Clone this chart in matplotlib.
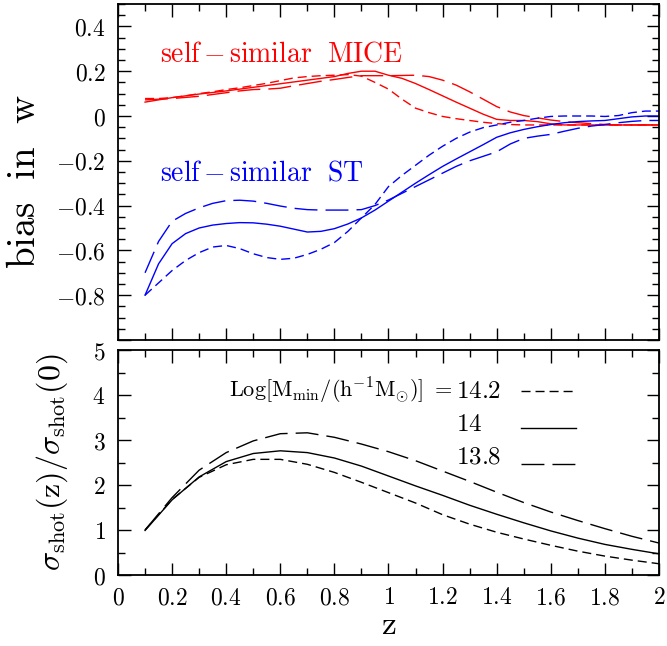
import numpy as np
import matplotlib
matplotlib.use("Agg")
import matplotlib.pyplot as plt
from matplotlib.ticker import MultipleLocator, FuncFormatter

plt.rcParams['mathtext.fontset'] = 'cm'
plt.rcParams['font.family'] = 'serif'

# ---- top panel: bias in w ----
z_top = [0.10, 0.15, 0.20, 0.25, 0.30, 0.35, 0.40, 0.45, 0.50, 0.55,
         0.60, 0.65, 0.70, 0.75, 0.80, 0.85, 0.90, 0.95, 1.00, 1.05,
         1.10, 1.15, 1.20, 1.25, 1.30, 1.35, 1.40, 1.45, 1.50, 1.55,
         1.60, 1.65, 1.70, 1.75, 1.80, 1.85, 1.90, 1.95, 2.00]

mice_142 = [0.078, 0.078, 0.082, 0.090, 0.100, 0.108, 0.118, 0.126, 0.136, 0.146,
            0.158, 0.170, 0.176, 0.180, 0.182, 0.185, 0.178, 0.150, 0.120, 0.075,
            0.035, 0.015, -0.002, -0.012, -0.020, -0.028, -0.034, -0.038, -0.040, -0.040,
            -0.040, -0.040, -0.040, -0.040, -0.040, -0.040, -0.040, -0.040, -0.040]
mice_14 = [0.062, 0.072, 0.082, 0.090, 0.098, 0.105, 0.112, 0.120, 0.128, 0.136,
           0.144, 0.152, 0.160, 0.168, 0.176, 0.190, 0.200, 0.200, 0.182, 0.168,
           0.145, 0.118, 0.090, 0.062, 0.035, 0.008, -0.015, -0.020, -0.020, -0.025,
           -0.035, -0.040, -0.040, -0.040, -0.040, -0.040, -0.040, -0.040, -0.040]
mice_138 = [0.072, 0.075, 0.078, 0.083, 0.088, 0.096, 0.104, 0.112, 0.118, 0.120,
            0.124, 0.135, 0.145, 0.155, 0.163, 0.172, 0.180, 0.180, 0.180, 0.181,
            0.182, 0.176, 0.160, 0.138, 0.108, 0.075, 0.042, 0.018, 0.002, -0.008,
            -0.018, -0.025, -0.030, -0.034, -0.038, -0.040, -0.040, -0.040, -0.040]

st_142 = [-0.800, -0.745, -0.690, -0.645, -0.610, -0.585, -0.578, -0.592, -0.615, -0.632,
          -0.640, -0.635, -0.618, -0.595, -0.565, -0.515, -0.455, -0.395, -0.315, -0.265,
          -0.220, -0.175, -0.135, -0.100, -0.072, -0.052, -0.040, -0.028, -0.020, -0.010,
          -0.002, 0.000, 0.000, 0.000, -0.002, 0.002, 0.015, 0.022, 0.022]
st_14 = [-0.800, -0.660, -0.570, -0.525, -0.500, -0.487, -0.480, -0.476, -0.477, -0.483,
         -0.492, -0.505, -0.518, -0.515, -0.503, -0.482, -0.455, -0.420, -0.380, -0.340,
         -0.300, -0.262, -0.225, -0.192, -0.160, -0.128, -0.095, -0.075, -0.060, -0.048,
         -0.038, -0.030, -0.025, -0.022, -0.020, -0.012, -0.004, 0.000, 0.000]
st_138 = [-0.700, -0.560, -0.470, -0.435, -0.410, -0.390, -0.378, -0.376, -0.380, -0.390,
          -0.402, -0.412, -0.418, -0.420, -0.420, -0.420, -0.418, -0.400, -0.375, -0.345,
          -0.315, -0.285, -0.255, -0.225, -0.200, -0.180, -0.160, -0.125, -0.100, -0.090,
          -0.082, -0.068, -0.055, -0.045, -0.038, -0.030, -0.024, -0.020, -0.020]

# ---- bottom panel: shot noise ratio ----
z_bot = [0.1, 0.2, 0.3, 0.4, 0.5, 0.6, 0.7, 0.8, 0.9, 1.0,
         1.1, 1.2, 1.3, 1.4, 1.5, 1.6, 1.7, 1.8, 1.9, 2.0]
shot_142 = [1.00, 1.68, 2.17, 2.45, 2.57, 2.57, 2.46, 2.28, 2.06, 1.83,
            1.60, 1.34, 1.13, 0.95, 0.80, 0.66, 0.53, 0.42, 0.33, 0.25]
shot_14 = [0.99, 1.67, 2.18, 2.52, 2.70, 2.76, 2.72, 2.60, 2.42, 2.20,
           1.98, 1.77, 1.55, 1.35, 1.16, 0.98, 0.82, 0.68, 0.57, 0.47]
shot_138 = [1.00, 1.72, 2.33, 2.72, 2.98, 3.14, 3.16, 3.06, 2.91, 2.74,
            2.54, 2.31, 2.08, 1.84, 1.61, 1.40, 1.21, 1.03, 0.86, 0.71]

mass_labels = ['14.2', '14', '13.8']

SHORT = (6.5, 3.6)
LONG = (16.5, 5.8)


def fmt(v, pos):
    if abs(v) < 1e-9:
        return '$0$'
    return '$%g$' % v


def fmt_top(v, pos):
    # the bottom edge (-1) is left unlabelled
    if v < -0.95:
        return ''
    return fmt(v, pos)


def style(ax):
    ax.tick_params(which='both', direction='in', top=True, right=True,
                   labelsize=17, width=1.0)
    ax.tick_params(which='major', length=9)
    ax.tick_params(which='minor', length=5)
    for s in ax.spines.values():
        s.set_linewidth(1.3)
    ax.xaxis.set_major_formatter(FuncFormatter(fmt))
    ax.yaxis.set_major_formatter(FuncFormatter(fmt))


fig = plt.figure(figsize=(6.67, 6.46), dpi=100)
ax1 = fig.add_axes([0.1769, 0.4737, 0.8111, 0.5201])
ax2 = fig.add_axes([0.1769, 0.1099, 0.8111, 0.3483])

lw = 1.0
ax1.plot(z_top, mice_142, color='#ff0000', lw=lw, dashes=SHORT)
ax1.plot(z_top, mice_14, color='#ff0000', lw=lw)
ax1.plot(z_top, mice_138, color='#ff0000', lw=lw, dashes=LONG)
ax1.plot(z_top, st_142, color='#0000ff', lw=lw, dashes=SHORT)
ax1.plot(z_top, st_14, color='#0000ff', lw=lw)
ax1.plot(z_top, st_138, color='#0000ff', lw=lw, dashes=LONG)

ax1.text(0.155, 0.245, r'$\mathrm{self\,{-}\,similar\ \ MICE}$', color='#ff0000',
         fontsize=20, ha='left', va='baseline')
ax1.text(0.155, -0.29, r'$\mathrm{self\,{-}\,similar\ \ ST}$', color='#0000ff',
         fontsize=20, ha='left', va='baseline')

ax1.set_xlim(0, 2)
ax1.set_ylim(-1.0, 0.5)
style(ax1)
ax1.xaxis.set_major_locator(MultipleLocator(0.2))
ax1.xaxis.set_minor_locator(MultipleLocator(0.1))
ax1.yaxis.set_major_locator(MultipleLocator(0.2))
ax1.yaxis.set_minor_locator(MultipleLocator(0.05))
ax1.yaxis.set_major_formatter(FuncFormatter(fmt_top))
ax1.tick_params(labelbottom=False, pad=9)
ax1.set_ylabel(r'$\mathrm{bias\ \ in\ \ w}$', fontsize=28)
ax1.yaxis.set_label_coords(-0.138, 0.47)

l1, = ax2.plot(z_bot, shot_142, color='black', lw=lw, dashes=SHORT)
l2, = ax2.plot(z_bot, shot_14, color='black', lw=lw)
l3, = ax2.plot(z_bot, shot_138, color='black', lw=lw, dashes=LONG)

ax2.set_xlim(0, 2)
ax2.set_ylim(0, 5)
style(ax2)
ax2.xaxis.set_major_locator(MultipleLocator(0.2))
ax2.xaxis.set_minor_locator(MultipleLocator(0.1))
ax2.yaxis.set_major_locator(MultipleLocator(1))
ax2.yaxis.set_minor_locator(MultipleLocator(0.5))
ax2.tick_params(axis='y', pad=9)
ax2.tick_params(axis='x', pad=8)
ax2.set_xlabel(r'$\mathrm{z}$', fontsize=24)
ax2.xaxis.set_label_coords(0.5, -0.15)
ax2.set_ylabel(r'$\sigma_{\mathrm{shot}}(\mathrm{z})/\sigma_{\mathrm{shot}}(0)$', fontsize=23)
ax2.yaxis.set_label_coords(-0.088, 0.5)

# legend: keys only, labels written as text next to them
leg = ax2.legend([l1, l2, l3], [' ', ' ', ' '], loc='upper left',
                 bbox_to_anchor=(1.49, 4.3), bbox_transform=ax2.transData,
                 frameon=False, fontsize=18, handlelength=2.2, handletextpad=0,
                 borderpad=0, borderaxespad=0, labelspacing=0.55)
ax2.text(1.235, 4.08, r'$\mathrm{Log}[\mathrm{M}_{\mathrm{min}}/(\mathrm{h}^{-1}\mathrm{M}_{\odot})]\ =$',
         fontsize=16, ha='right', va='center')
for lab, yv in zip(mass_labels, [4.08, 3.35, 2.63]):
    ax2.text(1.25, yv, '$' + lab + '$', fontsize=18, ha='left', va='center')

fig.savefig('out.png', dpi=100)
